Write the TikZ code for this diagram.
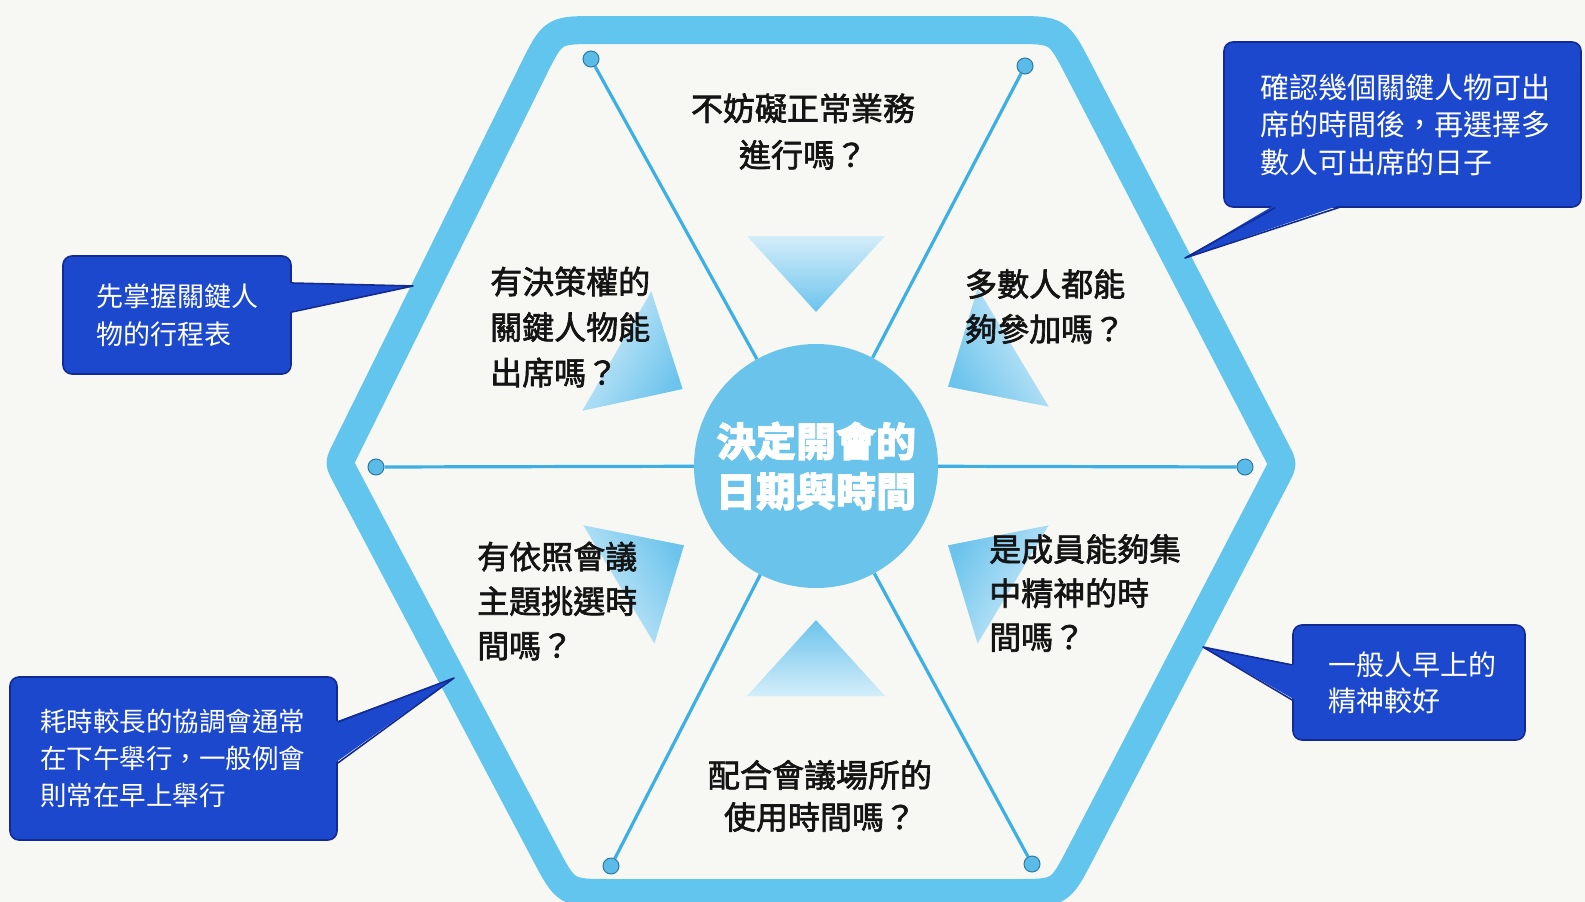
\documentclass[tikz,border=0pt]{standalone}
\usepackage{fontspec}
\newfontfamily\cjk{Noto Sans CJK TC}
\newfontfamily\cjkq[FakeBold=2]{Noto Sans CJK TC}
\newfontfamily\cjkh[BoldFeatures={FakeBold=2}]{Noto Sans CJK TC}
\usetikzlibrary{calc}
\definecolor{bgc}{RGB}{247,248,243}
\definecolor{hexc}{RGB}{98,197,237}
\definecolor{spokec}{RGB}{62,175,228}
\definecolor{circc}{RGB}{105,195,235}
\definecolor{arrc}{RGB}{100,192,235}
\definecolor{boxc}{RGB}{28,72,205}
\definecolor{boxb}{RGB}{18,42,145}
\definecolor{txtc}{RGB}{20,20,20}
\tikzset{
  hexline/.style={draw=hexc, line width=28pt, line join=round},
  spoke/.style={draw=spokec, line width=3.2pt},
  dotnode/.style={circle, fill=spokec!85, draw=spokec!70!black, line width=1pt, minimum size=16pt, inner sep=0pt},
  hub/.style={circle, fill=circc, minimum size=244pt, inner sep=0pt, text=white, align=center,
    font=\cjkh\bfseries\fontsize{40}{50}\selectfont},
  q/.style={text=txtc, inner sep=0pt},
  cbox/.style={fill=boxc, draw=boxb, line width=1.6pt, rounded corners=9pt, text=white, align=left, inner ysep=0pt},
  ptredge/.style={draw=boxb, line width=1.6pt, line join=round},
  qarrowstyle/.style={top color=arrc!28, bottom color=arrc!95}
}
\newcommand\qarrow[2]{%
  \shade[qarrowstyle, shading angle=#2]
    ($(hub.center)+({-(#1)}:154)$) --
    ($(hub.center)+({-(#1)}:230)+({-(#1)+90}:69)$) --
    ($(hub.center)+({-(#1)}:230)+({-(#1)-90}:69)$) -- cycle;}
\begin{document}
\begin{tikzpicture}[x=1pt,y=-1pt]
\useasboundingbox (0,0) rectangle (1585,902);
\fill[bgc] (0,0) rectangle (1585,902);
% hexagon frame
\coordinate (H1) at (1058,30);
\coordinate (H2) at (1283,464);
\coordinate (H3) at (1060,893);
\coordinate (H4) at (566,893);
\coordinate (H5) at (339,463);
\coordinate (H6) at (553,30);
\draw[hexline]
  ($(H6)!45pt!(H1)$) -- ($(H1)!45pt!(H6)$) .. controls (H1) .. ($(H1)!45pt!(H2)$)
  -- ($(H2)!14pt!(H1)$) .. controls (H2) .. ($(H2)!14pt!(H3)$)
  -- ($(H3)!45pt!(H2)$) .. controls (H3) .. ($(H3)!45pt!(H4)$)
  -- ($(H4)!45pt!(H3)$) .. controls (H4) .. ($(H4)!45pt!(H5)$)
  -- ($(H5)!14pt!(H4)$) .. controls (H5) .. ($(H5)!14pt!(H6)$)
  -- ($(H6)!45pt!(H5)$) .. controls (H6) .. cycle;
% hub
\node[hub] (hub) at (816,466) {決定開會的\\日期與時間};
% dots
\node[dotnode] (dtl) at (591,59) {};
\node[dotnode] (dtr) at (1025,66) {};
\node[dotnode] (dl) at (376,467) {};
\node[dotnode] (dr) at (1245,467) {};
\node[dotnode] (dbl) at (611,866) {};
\node[dotnode] (dbr) at (1032,864) {};
% spokes
\draw[spoke] (hub) -- (dtl);
\draw[spoke] (hub) -- (dtr);
\draw[spoke] (hub) -- (dl);
\draw[spoke] (hub) -- (dr);
\draw[spoke] (hub) -- (dbl);
\draw[spoke] (hub) -- (dbr);
% arrows
\qarrow{90}{0}
\qarrow{150}{60}
\qarrow{31}{-59}
\qarrow{211}{121}
\qarrow{-31}{-121}
\qarrow{270}{180}
% questions
\node[q, align=center, font=\cjkq\fontsize{32}{46.5}\selectfont] (qt) at (803,131.5) {不妨礙正常業務\\進行嗎？};
\node[q, align=left, anchor=west, font=\cjkq\fontsize{32}{45.5}\selectfont] (qul) at (490,327) {有決策權的\\關鍵人物能\\出席嗎？};
\node[q, align=left, anchor=west, font=\cjkq\fontsize{32}{45}\selectfont] (qur) at (965,306.5) {多數人都能\\夠參加嗎？};
\node[q, align=left, anchor=west, font=\cjkq\fontsize{32}{44.5}\selectfont] (qll) at (477,601) {有依照會議\\主題挑選時\\間嗎？};
\node[q, align=left, anchor=west, font=\cjkq\fontsize{32}{44}\selectfont] (qlr) at (989,593) {是成員能夠集\\中精神的時\\間嗎？};
\node[q, align=center, font=\cjkq\fontsize{32}{42}\selectfont] (qb) at (820,796) {配合會議場所的\\使用時間嗎？};
% callout 1
\node[cbox, minimum width=228pt, minimum height=118pt, inner xsep=33pt, text width=162pt,
  font=\cjk\fontsize{27}{38}\selectfont] (b1) at (177,315) {先掌握關鍵人\\物的行程表};
\coordinate (p1) at (413,286);
\fill[boxc] ($(b1.east)+(-3,-32)$) -- (p1) -- ($(b1.east)+(-3,-3)$) -- cycle;
\draw[ptredge] ($(b1.east)+(0,-32)$) -- (p1) -- ($(b1.east)+(0,-3)$);
% callout 2
\node[cbox, minimum width=357pt, minimum height=165pt, inner xsep=36pt, text width=285pt,
  font=\cjk\fontsize{29}{37.5}\selectfont] (b2) at (1402.5,124.5) {確認幾個關鍵人物可出\\席的時間後，再選擇多\\數人可出席的日子};
\coordinate (p2) at (1185,258);
\fill[boxc] ($(b2.south)+(-127.5,-3)$) -- (p2) -- ($(b2.south)+(-61.5,-3)$) -- cycle;
\draw[ptredge] ($(b2.south)+(-127.5,0)$) -- (p2) -- ($(b2.south)+(-61.5,-1)$);
% callout 3
\node[cbox, minimum width=327pt, minimum height=163pt, inner xsep=30pt, text width=267pt,
  font=\cjk\fontsize{26.5}{37}\selectfont] (b3) at (173.5,758.5) {耗時較長的協調會通常\\在下午舉行，一般例會\\則常在早上舉行};
\coordinate (p3) at (454,678);
\fill[boxc] ($(b3.east)+(-3,-36.5)$) -- (p3) -- ($(b3.east)+(-3,4.5)$) -- cycle;
\draw[ptredge] ($(b3.east)+(0,-36.5)$) -- (p3) -- ($(b3.east)+(0,4.5)$);
% callout 4
\node[cbox, minimum width=232pt, minimum height=115pt, inner xsep=35pt, text width=162pt,
  font=\cjk\fontsize{28}{36}\selectfont] (b4) at (1409,682.5) {一般人早上的\\精神較好};
\coordinate (p4) at (1203,647);
\fill[boxc] ($(b4.west)+(3,-17.5)$) -- (p4) -- ($(b4.west)+(3,17.5)$) -- cycle;
\draw[ptredge] ($(b4.west)+(0,-17.5)$) -- (p4) -- ($(b4.west)+(0,17.5)$);
\end{tikzpicture}
\end{document}
